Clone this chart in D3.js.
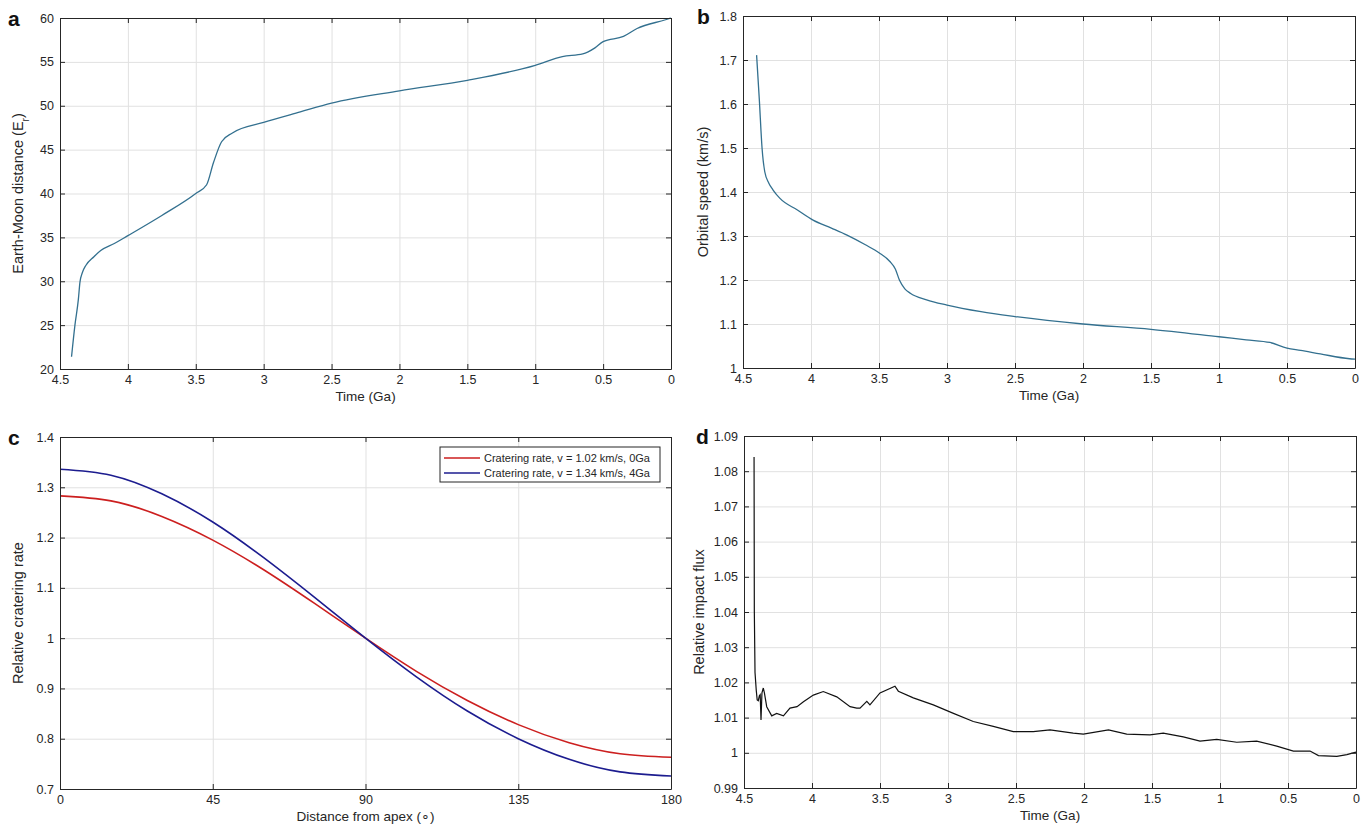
<!DOCTYPE html>
<html>
<head>
<meta charset="utf-8">
<script src="https://cdn.jsdelivr.net/npm/d3@7"></script>
<style>
  body { margin: 0; background: #fff; }
  svg { font-family: "Liberation Sans", Arial, sans-serif; }
  .grid line { stroke: #e1e1e1; stroke-width: 1; }
  .grid path { display: none; }
  .frame path, .frame line { stroke: #262626; }
  .frame text { fill: #262626; font-size: 12.5px; }
</style>
</head>
<body>
<svg id="chart" width="1371" height="832"></svg>
<script>
// panel a: Earth-Moon distance vs time
const aTime = [4.415, 4.39, 4.365, 4.353, 4.335, 4.31, 4.25, 4.2, 4.1, 4.0, 3.75, 3.5, 3.42, 3.37, 3.31, 3.23, 3.0, 2.73, 2.5, 2.0, 1.5, 1.0, 0.8, 0.65, 0.56, 0.5, 0.35, 0.25, 0.04, 0];
const aDist = [21.4, 25.0, 27.9, 29.9, 31.0, 31.8, 32.8, 33.5, 34.3, 35.2, 37.5, 40.0, 41.0, 43.5, 45.9, 46.9, 48.1, 49.3, 50.3, 51.7, 52.9, 54.6, 55.6, 55.9, 56.6, 57.3, 57.9, 58.8, 59.8, 60];

// panel b: orbital speed vs time
const bTime = [4.40, 4.38, 4.36, 4.34, 4.31, 4.28, 4.23, 4.1, 3.985, 3.85, 3.735, 3.6, 3.5, 3.42, 3.38, 3.35, 3.31, 3.27, 3.15, 3.0, 2.75, 2.5, 2.0, 1.5, 1.0, 0.8, 0.625, 0.5, 0.4, 0.255, 0.04, 0];
const bSpeed = [1.711, 1.61, 1.50, 1.446, 1.42, 1.405, 1.386, 1.359, 1.336, 1.318, 1.302, 1.28, 1.262, 1.242, 1.225, 1.20, 1.18, 1.170, 1.155, 1.143, 1.128, 1.117, 1.10, 1.088, 1.071, 1.064, 1.058, 1.045, 1.040, 1.032, 1.021, 1.02];

// panel c: relative cratering rate vs distance from apex
const cAngle = [0, 15, 30, 45, 60, 75, 90, 105, 120, 135, 150, 165, 180];
const cRed = [1.283, 1.273, 1.242, 1.195, 1.136, 1.069, 1.0, 0.934, 0.876, 0.828, 0.792, 0.770, 0.763];
const cBlue = [1.336, 1.324, 1.287, 1.231, 1.160, 1.081, 1.0, 0.923, 0.855, 0.800, 0.759, 0.734, 0.726];
const cLegend = ["Cratering rate, v = 1.02 km/s, 0Ga", "Cratering rate, v = 1.34 km/s, 4Ga"];

// panel d: relative impact flux vs time
const dTime = [4.426, 4.424, 4.419, 4.41, 4.403, 4.395, 4.387, 4.381, 4.375, 4.368, 4.358, 4.35, 4.333, 4.296, 4.26, 4.21, 4.162, 4.11, 4.063, 3.99, 3.917, 3.818, 3.72, 3.671, 3.647, 3.597, 3.574, 3.5, 3.39, 3.365, 3.255, 3.108, 2.96, 2.814, 2.667, 2.52, 2.373, 2.25, 2.079, 2.005, 1.82, 1.686, 1.515, 1.417, 1.27, 1.147, 1.024, 0.877, 0.73, 0.583, 0.46, 0.338, 0.276, 0.141, 0.067, 0];
const dFlux = [1.084, 1.04, 1.0228, 1.0178, 1.015, 1.0148, 1.0162, 1.0165, 1.0093, 1.017, 1.0184, 1.017, 1.0131, 1.0105, 1.0112, 1.0105, 1.0127, 1.0131, 1.0145, 1.0164, 1.0174, 1.0159, 1.0131, 1.0127, 1.0127, 1.0146, 1.0136, 1.017, 1.0189, 1.0175, 1.0156, 1.0136, 1.0112, 1.0089, 1.0075, 1.006, 1.006, 1.0065, 1.0056, 1.0053, 1.0065, 1.0053, 1.0051, 1.0056, 1.0045, 1.0033, 1.0038, 1.003, 1.0033, 1.0019, 1.0005, 1.0005, 0.9992, 0.999, 0.9995, 1.0002];

// tick values
const timeTicks = [4.5, 4, 3.5, 3, 2.5, 2, 1.5, 1, 0.5, 0];
const aTicks = [20, 25, 30, 35, 40, 45, 50, 55, 60];
const bTicks = [1, 1.1, 1.2, 1.3, 1.4, 1.5, 1.6, 1.7, 1.8];
const cxTicks = [0, 45, 90, 135, 180];
const cyTicks = [0.7, 0.8, 0.9, 1, 1.1, 1.2, 1.3, 1.4];
const dTicks = [0.99, 1, 1.01, 1.02, 1.03, 1.04, 1.05, 1.06, 1.07, 1.08, 1.09];

const svg = d3.select("#chart");

function panel(opt) {
    const w = opt.right - opt.left, h = opt.bottom - opt.top;
    const g = svg.append("g").attr("transform", `translate(${opt.left},${opt.top})`);
    const x = d3.scaleLinear().domain(opt.xDomain).range([0, w]);
    const y = d3.scaleLinear().domain(opt.yDomain).range([h, 0]);

    g.append("g").attr("class", "grid")
        .attr("transform", `translate(0,${h})`)
        .call(d3.axisBottom(x).tickValues(opt.xTicks).tickSize(-h).tickFormat(""));
    g.append("g").attr("class", "grid")
        .call(d3.axisLeft(y).tickValues(opt.yTicks).tickSize(-w).tickFormat(""));

    const line = d3.line().x(d => x(d[0])).y(d => y(d[1])).curve(opt.curve || d3.curveLinear);
    opt.series.forEach(s => {
        g.append("path")
            .datum(s.x.map((v, i) => [v, s.y[i]]))
            .attr("fill", "none")
            .attr("stroke", s.color)
            .attr("stroke-width", s.width)
            .attr("d", line);
    });

    g.append("g").attr("class", "frame")
        .attr("transform", `translate(0,${h})`)
        .call(d3.axisBottom(x).tickValues(opt.xTicks).tickSizeInner(-5).tickSizeOuter(0).tickPadding(6).tickFormat(d3.format("")));
    g.append("g").attr("class", "frame")
        .call(d3.axisTop(x).tickValues(opt.xTicks).tickSizeInner(-5).tickSizeOuter(0).tickFormat(""));
    g.append("g").attr("class", "frame")
        .call(d3.axisLeft(y).tickValues(opt.yTicks).tickSizeInner(-5).tickSizeOuter(0).tickPadding(6).tickFormat(d3.format("")));
    g.append("g").attr("class", "frame")
        .attr("transform", `translate(${w},0)`)
        .call(d3.axisRight(y).tickValues(opt.yTicks).tickSizeInner(-5).tickSizeOuter(0).tickFormat(""));

    g.append("text")
        .attr("x", w / 2).attr("y", h + 32)
        .attr("text-anchor", "middle")
        .attr("font-size", 13.5).attr("fill", "#262626")
        .text(opt.xLabel);
    const yl = g.append("text")
        .attr("transform", `translate(${opt.yLabelX},${h / 2}) rotate(-90)`)
        .attr("text-anchor", "middle")
        .attr("font-size", 14.5).attr("fill", "#262626");
    opt.yLabel(yl);

    svg.append("text")
        .attr("x", opt.letterX).attr("y", opt.top + 8)
        .attr("font-size", 21).attr("font-weight", "bold").attr("fill", "#111")
        .text(opt.letter);
    return g;
}

const blueish = "#33708f";

panel({
    left: 60, right: 671, top: 18, bottom: 369,
    xDomain: [4.5, 0], yDomain: [20, 60], xTicks: timeTicks, yTicks: aTicks,
    xLabel: "Time (Ga)", yLabelX: -37, letter: "a", letterX: 8,
    yLabel: t => { t.append("tspan").text("Earth-Moon distance (E"); t.append("tspan").attr("baseline-shift", "sub").attr("font-size", 10).text("r"); t.append("tspan").text(")"); },
    curve: d3.curveMonotoneX,
    series: [{ x: aTime, y: aDist, color: blueish, width: 1.3 }]
});

panel({
    left: 743, right: 1355, top: 16, bottom: 368,
    xDomain: [4.5, 0], yDomain: [1, 1.8], xTicks: timeTicks, yTicks: bTicks,
    xLabel: "Time (Ga)", yLabelX: -35, letter: "b", letterX: 697,
    yLabel: t => t.text("Orbital speed (km/s)"),
    curve: d3.curveMonotoneX,
    series: [{ x: bTime, y: bSpeed, color: blueish, width: 1.3 }]
});

const gc = panel({
    left: 60, right: 671, top: 437, bottom: 789,
    xDomain: [0, 180], yDomain: [0.7, 1.4], xTicks: cxTicks, yTicks: cyTicks,
    xLabel: "Distance from apex (\u2218)", yLabelX: -37, letter: "c", letterX: 8,
    yLabel: t => t.text("Relative cratering rate"),
    curve: d3.curveNatural,
    series: [
        { x: cAngle, y: cRed, color: "#cc1f1f", width: 1.6 },
        { x: cAngle, y: cBlue, color: "#1c1c8f", width: 1.6 }
    ]
});

// legend for panel c
const leg = gc.append("g").attr("transform", "translate(380,10)");
leg.append("rect").attr("width", 220).attr("height", 35)
    .attr("fill", "#fff").attr("stroke", "#262626").attr("stroke-width", 1);
[["#cc1f1f", cLegend[0]], ["#1c1c8f", cLegend[1]]].forEach((d, i) => {
    const yy = 11 + i * 15;
    leg.append("line").attr("x1", 4).attr("x2", 40).attr("y1", yy).attr("y2", yy)
        .attr("stroke", d[0]).attr("stroke-width", 1.4);
    leg.append("text").attr("x", 44).attr("y", yy + 4)
        .attr("font-size", 11).attr("fill", "#262626").text(d[1]);
});

panel({
    left: 744, right: 1356, top: 436, bottom: 788,
    xDomain: [4.5, 0], yDomain: [0.99, 1.09], xTicks: timeTicks, yTicks: dTicks,
    xLabel: "Time (Ga)", yLabelX: -40, letter: "d", letterX: 696,
    yLabel: t => t.text("Relative impact flux"),
    series: [{ x: dTime, y: dFlux, color: "#111", width: 1.2 }]
});
</script>
</body>
</html>
